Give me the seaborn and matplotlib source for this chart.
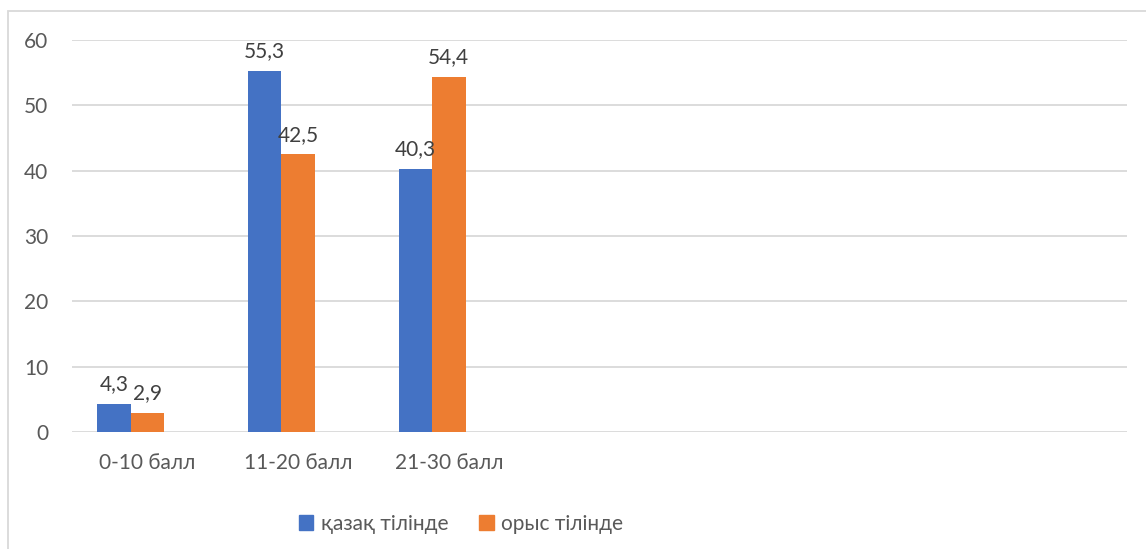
import numpy as np
import pandas as pd
import matplotlib
matplotlib.use('Agg')
import matplotlib.pyplot as plt
from matplotlib.patches import Rectangle, Patch
import seaborn as sns

categories = ['0-10 балл', '11-20 балл', '21-30 балл']
series_names = ['қазақ тілінде', 'орыс тілінде', 'Ряд 3']
kazakh = [4.3, 55.3, 40.3]
russian = [2.9, 42.5, 54.4]
empty = [np.nan, np.nan, np.nan]
yticks = [0, 10, 20, 30, 40, 50, 60]

colors = ['#4472C4', '#ED7D31', '#A5A5A5']
text_col = '#595959'

rows = []
for name, vals in zip(series_names, [kazakh, russian, empty]):
    for c, v in zip(categories, vals):
        rows.append({'cat': c, 'series': name, 'val': v})
df = pd.DataFrame(rows)

sns.set_style('white')
plt.rcParams['font.family'] = ['Lato', 'DejaVu Sans']

fig = plt.figure(figsize=(11.46, 5.49), dpi=100)
ax = fig.add_axes([72 / 1146, 1 - 432 / 549, (1127 - 72) / 1146, (432 - 40) / 549])

sns.barplot(data=df, x='cat', y='val', hue='series', order=categories,
            hue_order=series_names, palette=colors, width=0.667,
            saturation=1, ax=ax, legend=False, errorbar=None, linewidth=0)

ax.set_xlim(-0.5, 6.5)
ax.set_ylim(0, 60)
ax.set_yticks(yticks)
ax.set_yticklabels([str(t) for t in yticks])
ax.yaxis.grid(True, color='#D9D9D9', linewidth=1.3)
ax.set_axisbelow(True)
for s in ax.spines.values():
    s.set_visible(False)
ax.tick_params(axis='both', length=0, labelsize=15, colors=text_col)
ax.tick_params(axis='y', pad=17)
ax.tick_params(axis='x', pad=15)
ax.set_xlabel('')
ax.set_ylabel('')

for i, cont in enumerate(ax.containers[:2]):
    for bar, v in zip(cont, [kazakh, russian][i]):
        ax.annotate(f'{v:.1f}'.replace('.', ','),
                    (bar.get_x() + bar.get_width() / 2, bar.get_height()),
                    xytext=(0, 7), textcoords='offset points',
                    ha='center', va='bottom', fontsize=15, color='#404040')

handles = [Patch(color=colors[0]), Patch(color=colors[1])]
fig.legend(handles, series_names[:2], loc='center', bbox_to_anchor=(461 / 1146, 1 - 524 / 549),
           ncol=2, frameon=False, fontsize=15, handlelength=0.7, handleheight=0.7,
           handletextpad=0.35, columnspacing=1.5, labelcolor=text_col)

fig.patches.append(Rectangle((8 / 1146, -0.1), 1.2, 1 - 11 / 549 + 0.1,
                             transform=fig.transFigure, fill=False,
                             edgecolor='#D9D9D9', linewidth=1.3))

fig.savefig('out.png', dpi=100)
